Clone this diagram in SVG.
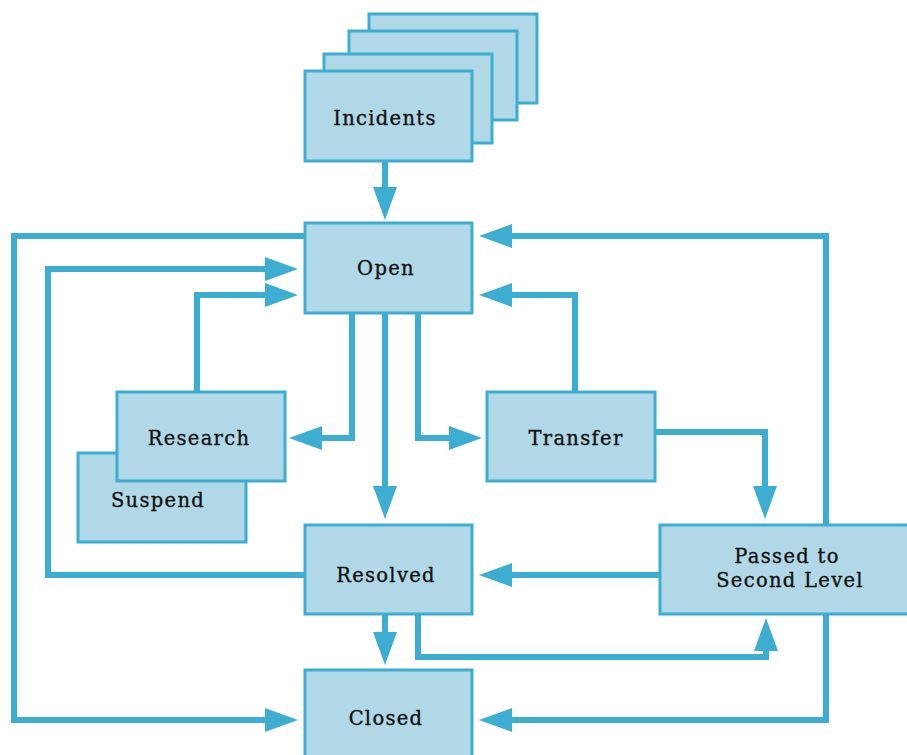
<svg xmlns="http://www.w3.org/2000/svg" width="907" height="755" viewBox="0 0 907 755">
  <style>
    .box { fill: #b0d8e6; stroke: #3daed2; stroke-width: 3; }
    .lbl { font-family: "DejaVu Serif", "Liberation Serif", serif; font-size: 19.5px; letter-spacing: 1.3px; fill: #111; stroke: #111; stroke-width: 0.35; text-anchor: middle; }
    .wire { fill: none; stroke: #3daed2; stroke-width: 6; stroke-linejoin: miter; marker-end: url(#ah); }
  </style>
  <defs>
    <marker id="ah" markerUnits="userSpaceOnUse" markerWidth="40" markerHeight="26" refX="1" refY="12" orient="auto">
      <path d="M0,0 L33,12 L0,24 z" fill="#3daed2"/>
    </marker>
  </defs>
  <rect width="907" height="755" fill="#ffffff"/>

  <!-- connectors -->
  <g id="connectors">
    <path class="wire" d="M385,162 V188"/>
    <path class="wire" d="M305,236 H14 V720 H266"/>
    <path class="wire" d="M305,575 H48 V269 H266"/>
    <path class="wire" d="M197,392 V295 H266"/>
    <path class="wire" d="M352,313 V438 H321"/>
    <path class="wire" d="M385,313 V487"/>
    <path class="wire" d="M418,313 V438 H450"/>
    <path class="wire" d="M575,392 V295 H511"/>
    <path class="wire" d="M655,432 H765 V487"/>
    <path class="wire" d="M826,525 V236 H511"/>
    <path class="wire" d="M660,575 H511"/>
    <path class="wire" d="M385,614 V633"/>
    <path class="wire" d="M418,614 V657 H766 V650"/>
    <path class="wire" d="M826,614 V720 H511"/>
  </g>

  <!-- stacked incident cards -->
  <g id="incidents">
    <rect class="box" x="369" y="14" width="168" height="89"/>
    <rect class="box" x="349" y="31" width="168" height="89"/>
    <rect class="box" x="324" y="54" width="168" height="89"/>
    <rect class="box" x="305" y="71" width="167" height="90"/>
    <text class="lbl" x="385" y="125">Incidents</text>
  </g>

  <g id="open">
    <rect class="box" x="305" y="223" width="167" height="90"/>
    <text class="lbl" x="386" y="275">Open</text>
  </g>

  <g id="suspend">
    <rect class="box" x="78" y="453" width="168" height="89"/>
    <text class="lbl" x="158" y="507">Suspend</text>
  </g>

  <g id="research">
    <rect class="box" x="117" y="392" width="168" height="89"/>
    <text class="lbl" x="199" y="445">Research</text>
  </g>

  <g id="transfer">
    <rect class="box" x="487" y="392" width="168" height="89"/>
    <text class="lbl" x="576" y="445">Transfer</text>
  </g>

  <g id="resolved">
    <rect class="box" x="305" y="525" width="167" height="89"/>
    <text class="lbl" x="386" y="582">Resolved</text>
  </g>

  <g id="second-level">
    <rect class="box" x="660" y="525" width="260" height="89"/>
    <text class="lbl" x="787" y="563">Passed to</text>
    <text class="lbl" x="790" y="587">Second Level</text>
  </g>

  <g id="closed">
    <rect class="box" x="305" y="670" width="167" height="100"/>
    <text class="lbl" x="386" y="725">Closed</text>
  </g>
</svg>
